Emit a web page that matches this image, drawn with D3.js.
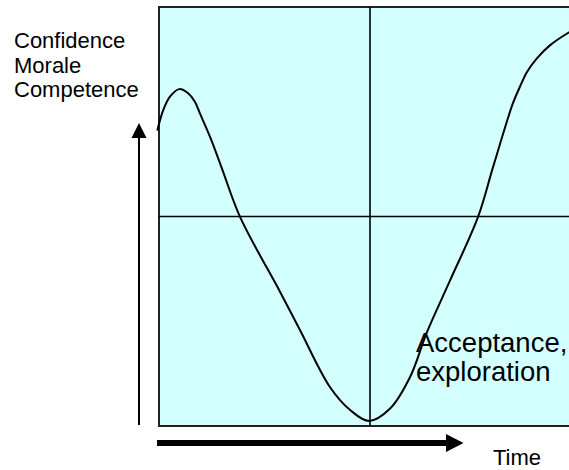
<!DOCTYPE html>
<html>
<head>
<meta charset="utf-8">
<script src="https://cdn.jsdelivr.net/npm/d3@7"></script>
<style>
  html, body { margin: 0; padding: 0; background: #fff; }
  svg { display: block; }
  text { font-family: "Liberation Sans", Arial, sans-serif; fill: #000; }
</style>
</head>
<body>
<svg id="chart" width="569" height="470"></svg>
<script>
// ---- data ----
const curveTime  = [-0.04, 0.10, 0.26, 0.48, 0.69, 0.85, 0.97, 1.21, 1.49, 1.92, 2.87, 3.34, 4.05, 4.53, 4.98, 5.47, 5.95, 6.35, 6.90, 7.56, 7.91, 8.27, 8.39, 8.55, 8.72, 8.96, 9.27, 9.69, 10.0];
const curveLevel = [7.05, 7.54, 7.86, 8.04, 7.94, 7.74, 7.46, 6.90, 6.15, 4.99, 3.20, 2.29, 0.93, 0.38, 0.12, 0.41, 1.17, 2.24, 3.48, 4.99, 6.16, 7.35, 7.71, 8.09, 8.45, 8.78, 9.09, 9.38, 9.55];
const xDomain = [0, 10];
const yDomain = [0, 10];
const xDivider = 5;
const yDivider = 5;
const yAxisLabels = ["Confidence", "Morale", "Competence"];
const xAxisLabel = "Time";
const noteLines = ["Acceptance,", "exploration"];

const svg = d3.select("#chart");

const x = d3.scaleLinear().domain(xDomain).range([159, 581]);
const y = d3.scaleLinear().domain(yDomain).range([426, 7]);

// background box
svg.append("rect")
  .attr("x", x(xDomain[0])).attr("y", y(yDomain[1]))
  .attr("width", x(xDomain[1]) - x(xDomain[0]))
  .attr("height", y(yDomain[0]) - y(yDomain[1]))
  .attr("fill", "#d4ffff")
  .attr("stroke", "#222").attr("stroke-width", 2);

// divider lines
svg.append("line")
  .attr("x1", x(xDivider)).attr("x2", x(xDivider))
  .attr("y1", y(yDomain[0])).attr("y2", y(yDomain[1]))
  .attr("stroke", "#000").attr("stroke-width", 1.6);
svg.append("line")
  .attr("x1", x(xDomain[0])).attr("x2", x(xDomain[1]))
  .attr("y1", y(yDivider)).attr("y2", y(yDivider))
  .attr("stroke", "#000").attr("stroke-width", 1.6);

// curve
const pts = curveTime.map((t, i) => [t, curveLevel[i]]);
svg.append("path")
  .datum(pts)
  .attr("d", d3.line().x(d => x(d[0])).y(d => y(d[1])).curve(d3.curveCatmullRom.alpha(0.5)))
  .attr("fill", "none").attr("stroke", "#000").attr("stroke-width", 2);

// vertical arrow
svg.append("line")
  .attr("x1", 139).attr("x2", 139).attr("y1", 425).attr("y2", 136)
  .attr("stroke", "#000").attr("stroke-width", 2);
svg.append("path")
  .attr("d", "M139,123 L131.5,138 L146.5,138 Z").attr("fill", "#000");

// horizontal arrow
svg.append("line")
  .attr("x1", 157).attr("x2", 447).attr("y1", 443).attr("y2", 443)
  .attr("stroke", "#000").attr("stroke-width", 6);
svg.append("path")
  .attr("d", "M446,434 L463.5,443 L446,452 Z").attr("fill", "#000");

// labels
svg.append("g").selectAll("text").data(yAxisLabels).join("text")
  .attr("x", 14).attr("y", (d, i) => 48 + i * 24.5)
  .attr("font-size", 22)
  .text(d => d);

svg.append("text").attr("x", 493).attr("y", 465).attr("font-size", 22).text(xAxisLabel);

svg.append("g").selectAll("text").data(noteLines).join("text")
  .attr("x", 416).attr("y", (d, i) => 352 + i * 28.5)
  .attr("font-size", 27.5)
  .text(d => d);
</script>
</body>
</html>
